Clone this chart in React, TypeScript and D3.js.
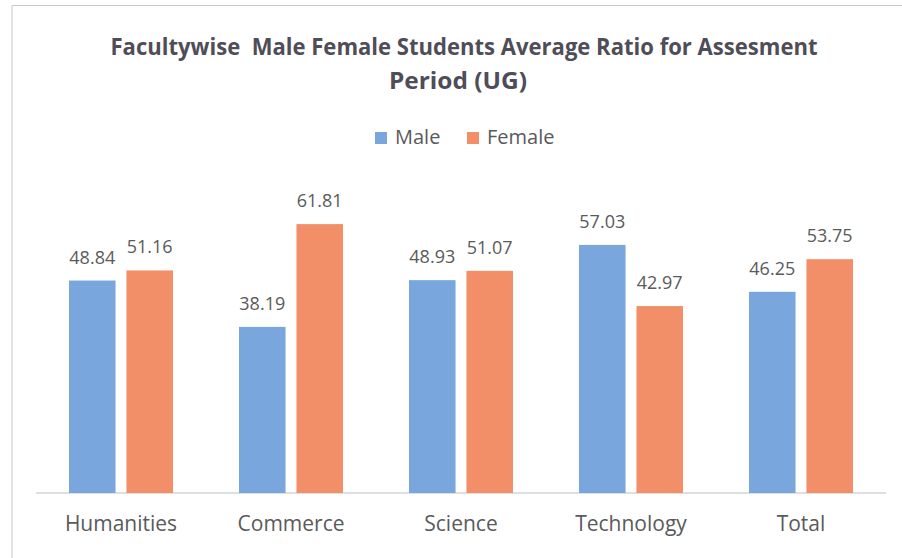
import React from "react";
import * as d3 from "d3";

const categories = ["Humanities", "Commerce", "Science", "Technology", "Total"];
const seriesNames = ["Male", "Female"];
const maleValues = [48.84, 38.19, 48.93, 57.03, 46.25];
const femaleValues = [51.16, 61.81, 51.07, 42.97, 53.75];
const labels = {
  male: ["48.84", "38.19", "48.93", "57.03", "46.25"],
  female: ["51.16", "61.81", "51.07", "42.97", "53.75"],
};
const titleLines = [
  "Facultywise  Male Female Students Average Ratio for Assesment",
  "Period (UG)",
];

const W = 902;
const H = 558;
const colors = ["#78A6DD", "#F28E68"];
const FONT = "'Open Sans', 'Noto Sans', sans-serif";

export default function App() {
  const x0 = d3.scaleBand<string>().domain(categories).range([36, 886]).paddingInner(0).paddingOuter(0);
  const groupW = 104;
  const x1 = d3
    .scaleBand<string>()
    .domain(seriesNames)
    .range([0, groupW])
    .paddingInner(0.19)
    .paddingOuter(0);
  const y = d3.scaleLinear().domain([0, 70]).range([493, 188.5]);

  const series = [maleValues, femaleValues];
  const seriesLabels = [labels.male, labels.female];

  return (
    <svg
      width={W}
      height={H}
      style={{ position: "absolute", left: 0, top: 0, background: "#ffffff" }}
      fontFamily={FONT}
    >
      <rect x={0} y={0} width={W} height={H} fill="#ffffff" />
      {/* border (top & left visible) */}
      <line x1={12} y1={5.5} x2={W} y2={5.5} stroke="#c8c8c8" strokeWidth={1} />
      <line x1={12} y1={5.5} x2={12} y2={H} stroke="#c8c8c8" strokeWidth={1} />

      {/* title */}
      <text
        x={464}
        y={55}
        textAnchor="middle"
        fontWeight="bold"
        fontSize={23}
        fill="#4f4d57"
        textLength={707}
        lengthAdjust="spacingAndGlyphs"
        style={{ whiteSpace: "pre" }}
      >
        {titleLines[0]}
      </text>
      <text
        x={458}
        y={89}
        textAnchor="middle"
        fontWeight="bold"
        fontSize={23}
        fill="#4f4d57"
        textLength={138}
        lengthAdjust="spacingAndGlyphs"
      >
        {titleLines[1]}
      </text>

      {/* legend */}
      {seriesNames.map((name, i) => {
        const lx = i === 0 ? 375 : 467;
        return (
          <g key={name}>
            <rect x={lx} y={132} width={12} height={12} fill={colors[i]} />
            <text x={lx + 20} y={144} fontSize={20} fill="#5a5a5a">
              {name}
            </text>
          </g>
        );
      })}

      {/* axis line */}
      <line x1={36} y1={493} x2={886} y2={493} stroke="#bfbfbf" strokeWidth={1.2} />

      {/* bars */}
      {categories.map((cat, ci) => {
        const gx = (x0(cat) as number) + x0.bandwidth() / 2 - groupW / 2;
        return (
          <g key={cat}>
            {seriesNames.map((s, si) => {
              const v = series[si][ci];
              const bx = gx + (x1(s) as number);
              const bw = x1.bandwidth();
              return (
                <g key={s}>
                  <rect x={bx} y={y(v)} width={bw} height={y(0) - y(v)} fill={colors[si]} />
                  <text
                    x={bx + bw / 2}
                    y={y(v) - 17}
                    textAnchor="middle"
                    fontSize={18}
                    fill="#5a5a5a"
                  >
                    {seriesLabels[si][ci]}
                  </text>
                </g>
              );
            })}
            <text
              x={(x0(cat) as number) + x0.bandwidth() / 2}
              y={531}
              textAnchor="middle"
              fontSize={21}
              fill="#5a5a5a"
            >
              {cat}
            </text>
          </g>
        );
      })}
    </svg>
  );
}
